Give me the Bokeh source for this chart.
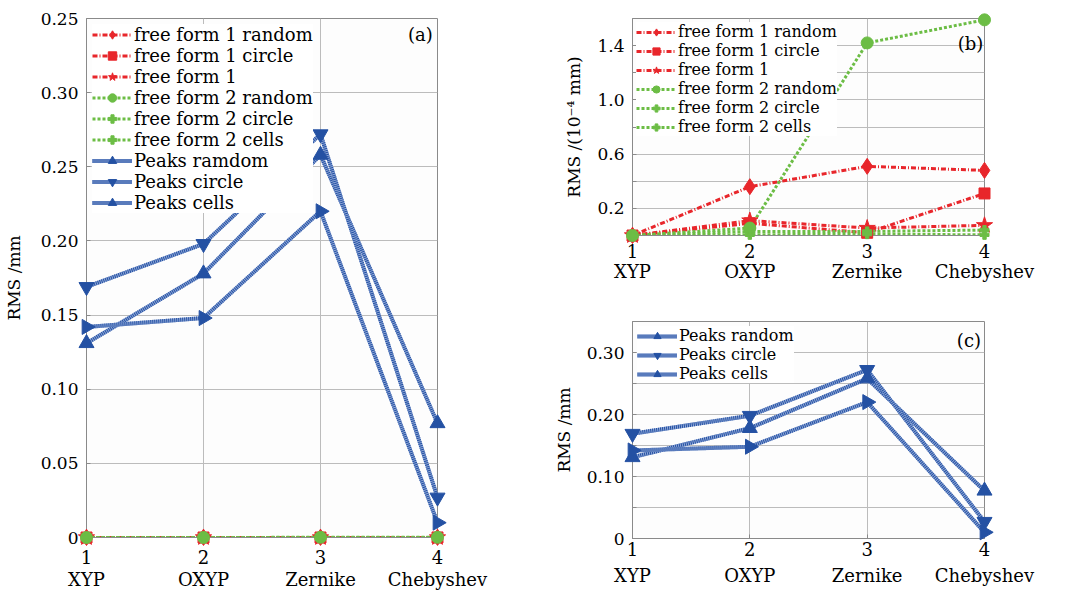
from bokeh.plotting import figure
from bokeh.models import (FixedTicker, Legend, LegendItem, Label, Range1d,
                          LinearAxis, ColumnDataSource)
from bokeh.layouts import row, column
from bokeh.embed import file_html
from bokeh.resources import INLINE

# ---------------- data ----------------
x = [1, 2, 3, 4]
x_names = ["XYP", "OXYP", "Zernike", "Chebyshev"]

# free-form results in units of 1e-4 mm (panel b)
ff1_random = [0.0, 0.36, 0.51, 0.48]
ff1_circle = [0.0, 0.09, 0.02, 0.31]
ff1_plain = [0.0, 0.11, 0.055, 0.075]
ff2_random = [0.0, 0.055, 1.42, 1.59]
ff2_circle = [0.0, 0.03, 0.03, 0.04]
ff2_cells = [0.0, 0.005, 0.01, 0.005]

# peaks results in mm
peaks_random = [0.131, 0.178, 0.258, 0.077]
peaks_circle = [0.169, 0.198, 0.272, 0.027]
peaks_cells = [0.142, 0.148, 0.220, 0.010]

a_yticks = [0, 0.05, 0.1, 0.15, 0.2, 0.25, 0.3, 0.35]
a_ylabels = ["0", "0.05", "0.10", "0.15", "0.20", "0.25", "0.30", "0.25"]
b_yticks = [0.2, 0.4, 0.6, 0.8, 1.0, 1.2, 1.4, 1.6]
b_ylabels = ["0.2", "", "0.6", "", "1.0", "", "1.4", ""]
c_yticks = [0, 0.05, 0.1, 0.15, 0.2, 0.25, 0.3, 0.35]
c_ylabels = ["0", "", "0.10", "", "0.20", "", "0.30", ""]

names_ff = ["free form 1 random", "free form 1 circle", "free form 1",
            "free form 2 random", "free form 2 circle", "free form 2 cells"]
names_peaks_a = ["Peaks ramdom", "Peaks circle", "Peaks cells"]
names_peaks_c = ["Peaks random", "Peaks circle", "Peaks cells"]

RED = "#e8262b"
GREEN = "#6cbd45"
BLUE = "#2451a3"
LBLUE = "#8ea6d6"
FONT = "DejaVu Serif"
FS = "17px"
LFS = "18px"


def base_fig(fw, fh, y0, y1, yticks, ylabels, ylab, bl, bt, bb, br, s1, s2):
    p = figure(frame_width=fw, frame_height=fh,
               x_range=Range1d(1, 4), y_range=Range1d(y0, y1),
               output_backend="svg", toolbar_location=None,
               min_border_left=bl, min_border_top=bt,
               min_border_bottom=bb, min_border_right=br)
    p.xaxis.ticker = FixedTicker(ticks=x)
    p.yaxis.ticker = FixedTicker(ticks=yticks)
    p.yaxis.major_label_overrides = {t: l for t, l in zip(yticks, ylabels)}
    p.yaxis.axis_label = ylab
    for ax in (p.xaxis, p.yaxis):
        ax.major_label_text_font = FONT
        ax.major_label_text_font_size = FS
        ax.major_label_text_color = "black"
        ax.axis_label_text_font = FONT
        ax.axis_label_text_font_size = FS
        ax.axis_label_text_font_style = "normal"
        ax.axis_label_text_color = "black"
        ax.axis_line_color = "#8a8a8a"
        ax.major_tick_line_color = "#8a8a8a"
        ax.major_tick_in = 4
        ax.major_tick_out = 0
        ax.minor_tick_line_color = None
    p.xaxis.major_label_standoff = s1
    p.xaxis.major_label_text_font_size = "18px"
    p.yaxis.major_label_standoff = 8
    # second row of x labels (method names)
    ax2 = LinearAxis(ticker=FixedTicker(ticks=x),
                     major_label_overrides={xi: n for xi, n in zip(x, x_names)},
                     axis_line_color=None, major_tick_line_color=None,
                     minor_tick_line_color=None, major_label_standoff=s2,
                     major_tick_in=0, major_tick_out=0,
                     major_label_text_font=FONT, major_label_text_font_size="18px",
                     major_label_text_color="black")
    p.add_layout(ax2, "below")
    p.grid.grid_line_color = "#bcbcbc"
    p.grid.grid_line_width = 1
    p.outline_line_color = "#8a8a8a"
    p.background_fill_color = "#fdfdfd"
    p.border_fill_color = "white"
    return p


def ff_series(p, scale, msize):
    specs = [
        (ff1_random, RED, "diamond", msize + 4, "5 2 1 2"),
        (ff1_circle, RED, "square", msize - 1, "5 2 1 2"),
        (ff1_plain, RED, "star", msize + 5, "5 2 1 2"),
        (ff2_random, GREEN, "circle", msize, "3 2"),
        (ff2_circle, GREEN, "plus", msize - 3, "3 2"),
        (ff2_cells, GREEN, "plus", msize - 3, "3 2"),
    ]
    items = []
    for (vals, col, mk, ms, dash), name in zip(specs, names_ff):
        yv = [v * scale for v in vals]
        l = p.line(x, yv, line_color=col, line_width=3, line_dash=dash)
        s = p.scatter(x, yv, marker=mk, size=ms, fill_color=col, line_color=col, level="overlay")
        items.append(LegendItem(label=name, renderers=[l, s]))
    return items


def peaks_series(p, names, msize):
    specs = [(peaks_random, "triangle", 0.0), (peaks_circle, "inverted_triangle", 0.0),
             (peaks_cells, "triangle", -1.5708)]
    items = []
    for (vals, mk, ang), name in zip(specs, names):
        src = ColumnDataSource(dict(x=x, y=vals, ang=[ang] * len(x)))
        l0 = p.line("x", "y", source=src, line_color=LBLUE, line_width=4)
        l1 = p.line("x", "y", source=src, line_color=BLUE, line_width=4, line_dash="1 1")
        s = p.scatter("x", "y", source=src, marker=mk, angle="ang", size=msize,
                      fill_color=BLUE, line_color=BLUE, level="overlay")
        items.append(LegendItem(label=name, renderers=[l0, l1, s]))
    return items


def add_legend(p, items, lh, margin, padding, fs):
    lg = Legend(items=items, location="top_left", label_text_font=FONT,
                label_text_font_size=fs, label_height=lh, glyph_height=lh,
                label_text_color="black",
                glyph_width=40, spacing=0, padding=padding, margin=margin,
                label_standoff=2, border_line_color=None,
                background_fill_color="white", background_fill_alpha=1.0)
    p.add_layout(lg)


def panel_label(p, text, xv, yv):
    p.add_layout(Label(x=xv, y=yv, text=text, text_align="right",
                       text_baseline="top", text_font=FONT, text_font_size=LFS,
                       text_color="black"))


# ---------------- panel (a) ----------------
pa = base_fig(351, 519, 0, 0.35, a_yticks, a_ylabels, "RMS /mm", 78, 18, 43, 101, 12, 2)
pa.yaxis.axis_label_standoff = 14
items_a = ff_series(pa, 1e-4, 12) + peaks_series(pa, names_peaks_a, 15)
add_legend(pa, items_a, 21, 6, 3, LFS)
panel_label(pa, "(a)", 3.96, 0.346)

# ---------------- panel (b) ----------------
pb = base_fig(352, 217, 0, 1.6, b_yticks, b_ylabels, "RMS /(10\u207b\u2074 mm)", 94, 18, 63, 60, 8, 0)
pb.yaxis.axis_label_standoff = 10
items_b = ff_series(pb, 1.0, 12)
add_legend(pb, items_b, 18, 4, 1, "16px")
panel_label(pb, "(b)", 3.99, 1.49)

# ---------------- panel (c) ----------------
pc = base_fig(352, 217, 0, 0.35, c_yticks, c_ylabels, "RMS /mm", 94, 23, 50, 60, 3, 6)
pc.yaxis.axis_label_standoff = 10
items_c = peaks_series(pc, names_peaks_c, 15)
add_legend(pc, items_c, 18, 5, 1, "16px")
panel_label(pc, "(c)", 3.97, 0.337)

layout = row(pa, column(pb, pc))

open("out.html", "w").write(file_html(layout, INLINE))
